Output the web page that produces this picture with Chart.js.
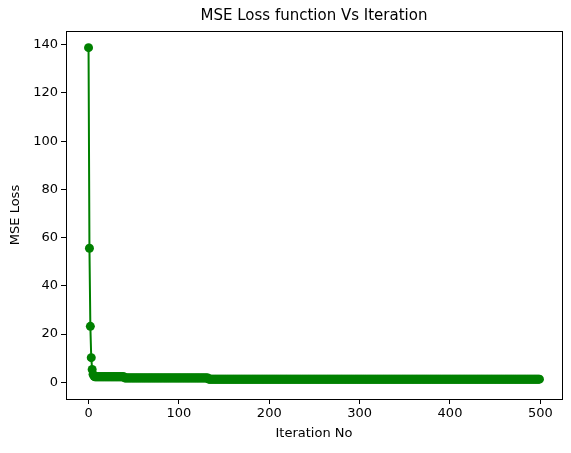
<!DOCTYPE html>
<html>
<head>
<script src="https://cdn.jsdelivr.net/npm/chart.js@4"></script>
<style>body{margin:0;background:#fff}#c{display:block}</style>
</head>
<body>
<canvas id="c" width="571" height="453"></canvas>
<script>
// first iterations read one by one
const earlyIters = [0, 1, 2, 3, 4, 5, 6];
const earlyLoss = [138.8, 55.6, 23.2, 10.2, 5.3, 3.3, 2.6];
// after that the loss sits on flat steps: [last iteration, loss]
const plateauEnds = [39, 132, 499];
const plateauLoss = [2.3, 1.8, 1.3];

const points = earlyIters.map((x, i) => ({ x: x, y: earlyLoss[i] }));
let it = earlyIters[earlyIters.length - 1] + 1;
plateauEnds.forEach((end, k) => {
    for (; it <= end; it++) points.push({ x: it, y: plateauLoss[k] });
});

const font = { family: 'DejaVu Sans', size: 13 };

const framePlugin = {
    id: 'frame',
    afterDraw(chart) {
        const { ctx, chartArea: a } = chart;
        ctx.save();
        ctx.strokeStyle = '#000';
        ctx.lineWidth = 1;
        ctx.strokeRect(a.left + 0.5, a.top + 0.5, a.right - a.left, a.bottom - a.top);
        ctx.fillStyle = '#000';
        ctx.font = '15px DejaVu Sans';
        ctx.textAlign = 'center';
        ctx.textBaseline = 'middle';
        ctx.fillText('MSE Loss function Vs Iteration', (a.left + a.right) / 2, 16);
        ctx.restore();
    }
};

new Chart(document.getElementById('c').getContext('2d'), {
    type: 'line',
    data: {
        datasets: [{
            data: points,
            borderColor: '#008000',
            backgroundColor: '#008000',
            borderWidth: 2,
            pointRadius: 4.5,
            pointBorderWidth: 0,
            tension: 0
        }]
    },
    options: {
        responsive: false,
        animation: false,
        layout: { padding: { top: 31, right: 9, left: 0, bottom: 0 } },
        plugins: { legend: { display: false }, tooltip: { enabled: false } },
        scales: {
            x: {
                type: 'linear',
                min: -24.95,
                max: 523.95,
                afterBuildTicks: s => { s.ticks = [0, 100, 200, 300, 400, 500].map(v => ({ value: v })); },
                afterFit: s => { s.height = 54; },
                ticks: { color: '#000', font: font, maxRotation: 0, padding: 2 },
                grid: { drawOnChartArea: false, tickLength: 5, color: '#000' },
                border: { color: '#000' },
                title: { display: true, text: 'Iteration No', color: '#000', font: font, padding: { top: 0, bottom: 12 } }
            },
            y: {
                min: -6.94,
                max: 145.7,
                afterBuildTicks: s => { s.ticks = [0, 20, 40, 60, 80, 100, 120, 140].map(v => ({ value: v })); },
                afterFit: s => { s.width = 66; },
                ticks: { color: '#000', font: font, padding: 3 },
                grid: { drawOnChartArea: false, tickLength: 5, color: '#000' },
                border: { color: '#000' },
                title: { display: true, text: 'MSE Loss', color: '#000', font: font, padding: { top: 8, bottom: 0 } }
            }
        }
    },
    plugins: [framePlugin]
});
</script>
</body>
</html>
